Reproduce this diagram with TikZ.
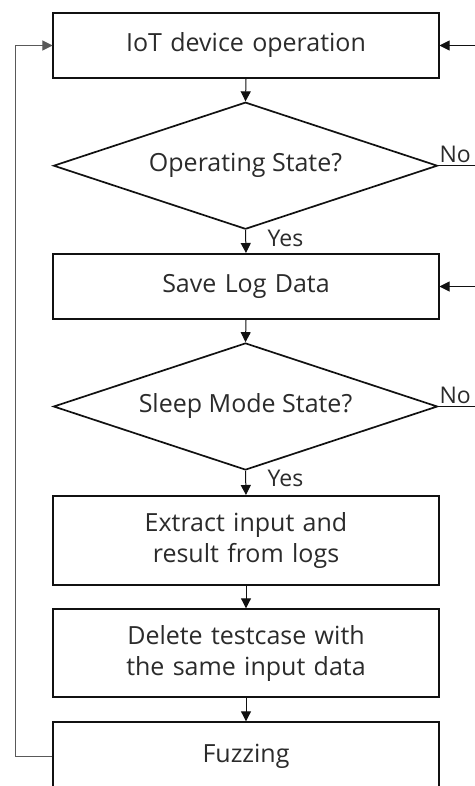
\documentclass[tikz,border=0pt]{standalone}
\usepackage{fontspec}
\setmainfont{Open Sans}
\usetikzlibrary{shapes.geometric,arrows.meta}
\definecolor{txt}{HTML}{2B2B2B}
\definecolor{edge}{HTML}{111111}
\tikzset{
  procbox/.style={draw=edge, line width=2bp, fill=white, minimum width=385bp, text width=360bp, align=center, text=txt, inner sep=0pt, font=\fontsize{25bp}{31.5bp}\selectfont},
  decide/.style={draw=edge, line width=1.7bp, fill=white, diamond, aspect=3.024, minimum width=384bp, minimum height=127bp, inner sep=0pt, text=txt, font=\fontsize{25bp}{31.5bp}\selectfont},
  flow/.style={draw=edge, line width=1bp, -{Triangle[length=10bp,width=10bp]}},
  loopline/.style={draw=black!65, line width=1bp, -{Triangle[length=10bp,width=10bp]}},
  lbl/.style={text=txt, inner sep=0pt, font=\fontsize{23bp}{26bp}\selectfont}
}
\begin{document}
\begin{tikzpicture}[x=1bp,y=-1bp]
\useasboundingbox (0,0) rectangle (475,786);
\clip (0,0) rectangle (475,786);
\fill[white] (0,0) rectangle (475,786);
\node[procbox, minimum height=65bp] (n1) at (246,45.5) {IoT device operation};
\node[decide] (d1) at (245.5,165.7) {Operating State?};
\node[procbox, minimum height=65bp] (n2) at (246,286.5) {Save Log Data};
\node[decide] (d2) at (245.5,406.5) {Sleep Mode State?};
\node[procbox, minimum height=89bp] (n3) at (246,540.5) {Extract input and\\result from logs};
\node[procbox, minimum height=88bp] (n4) at (246,653.3) {Delete testcase with\\the same input data};
\node[procbox, minimum height=68bp] (n5) at (246,756.3) {Fuzzing};
\draw[flow] (n1.south) -- (d1.north);
\draw[flow] (d1.south) -- (n2.north);
\draw[flow] (n2.south) -- (d2.north);
\draw[flow] (d2.south) -- (n3.north);
\draw[flow] (n3.south) -- (n4.north);
\draw[flow] (n4.south) -- (n5.north);
\draw[flow] (d1.east) -- ++(55,0) |- (n1.east);
\draw[flow] (d2.east) -- ++(55,0) |- (n2.east);
\draw[loopline] (n5.west) -- ++(-36.8,0) |- (n1.west);
\node[lbl, anchor=south west] (no1) at ([xshift=1bp,yshift=3bp]d1.east) {No};
\node[lbl, anchor=south west] (no2) at ([xshift=1bp,yshift=3bp]d2.east) {No};
\node[lbl, anchor=west] (yes1) at ([xshift=22bp,yshift=-8bp]d1.south) {Yes};
\node[lbl, anchor=west] (yes2) at ([xshift=22bp,yshift=-8bp]d2.south) {Yes};
\end{tikzpicture}
\end{document}
